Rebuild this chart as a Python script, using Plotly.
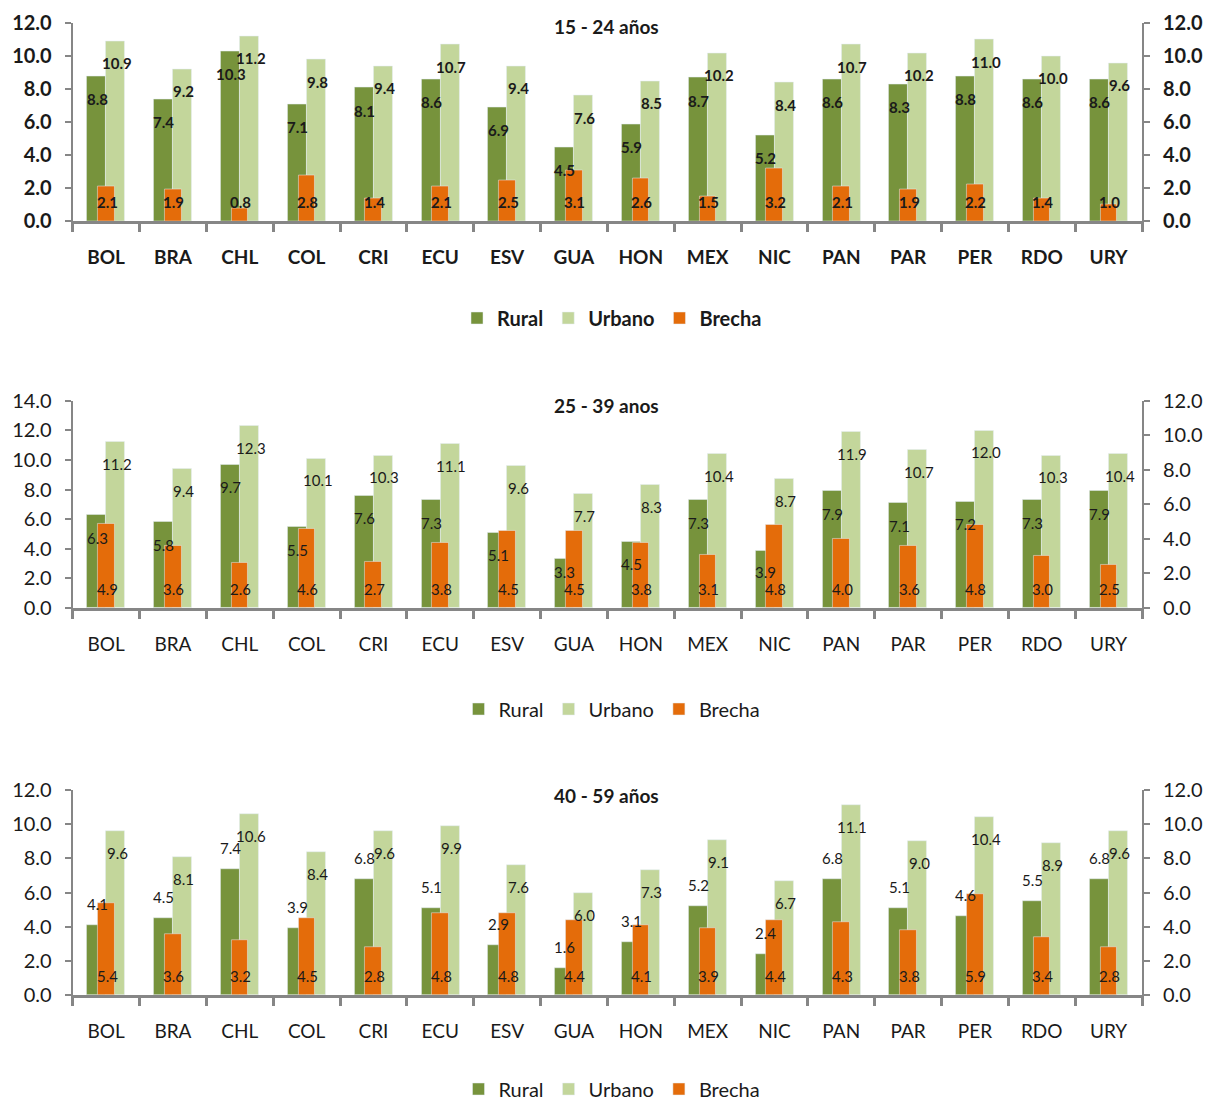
import plotly.graph_objects as go

# ---------------------------------------------------------------- data
countries = ["BOL", "BRA", "CHL", "COL", "CRI", "ECU", "ESV", "GUA",
             "HON", "MEX", "NIC", "PAN", "PAR", "PER", "RDO", "URY"]

series_names = ["Rural", "Urbano", "Brecha"]

rural_15_24 = [8.8, 7.4, 10.3, 7.1, 8.1, 8.6, 6.9, 4.5, 5.9, 8.7, 5.2, 8.6, 8.3, 8.8, 8.6, 8.6]
urbano_15_24 = [10.9, 9.2, 11.2, 9.8, 9.4, 10.7, 9.4, 7.6, 8.5, 10.2, 8.4, 10.7, 10.2, 11.0, 10.0, 9.6]
brecha_15_24 = [2.1, 1.9, 0.8, 2.8, 1.4, 2.1, 2.5, 3.1, 2.6, 1.5, 3.2, 2.1, 1.9, 2.2, 1.4, 1.0]

rural_25_39 = [6.3, 5.8, 9.7, 5.5, 7.6, 7.3, 5.1, 3.3, 4.5, 7.3, 3.9, 7.9, 7.1, 7.2, 7.3, 7.9]
urbano_25_39 = [11.2, 9.4, 12.3, 10.1, 10.3, 11.1, 9.6, 7.7, 8.3, 10.4, 8.7, 11.9, 10.7, 12.0, 10.3, 10.4]
brecha_25_39 = [4.9, 3.6, 2.6, 4.6, 2.7, 3.8, 4.5, 4.5, 3.8, 3.1, 4.8, 4.0, 3.6, 4.8, 3.0, 2.5]

rural_40_59 = [4.1, 4.5, 7.4, 3.9, 6.8, 5.1, 2.9, 1.6, 3.1, 5.2, 2.4, 6.8, 5.1, 4.6, 5.5, 6.8]
urbano_40_59 = [9.6, 8.1, 10.6, 8.4, 9.6, 9.9, 7.6, 6.0, 7.3, 9.1, 6.7, 11.1, 9.0, 10.4, 8.9, 9.6]
brecha_40_59 = [5.4, 3.6, 3.2, 4.5, 2.8, 4.8, 4.8, 4.4, 4.1, 3.9, 4.4, 4.3, 3.8, 5.9, 3.4, 2.8]

panel_titles = ["15 - 24 años", "25 - 39 anos", "40 - 59 años"]
left_axis_max = [12, 14, 12]
right_axis_max = [12, 12, 12]

# ---------------------------------------------------------------- styling
W, H = 1205, 1103
FONT = "Lato, 'Open Sans', sans-serif"
TXT = "#1a1a1a"
AXIS_GREY = "#868686"
C_RURAL = "#77933C"
C_URBANO = "#C3D69B"
C_BRECHA = "#E46C0A"

X_LEFT, X_RIGHT = 72.7, 1142.0
# per panel: plot top, plot bottom, title y, legend y (pixels from top)
geometry = [
    (23.3, 221.0, 27.0, 318.0),
    (400.7, 608.0, 405.0, 709.0),
    (790.0, 995.0, 795.0, 1089.0),
]
bold_panel = [True, False, False]
rural_label_above = [False, False, True]

LABEL_BELOW_TOP = 23      # px from bar top down to label centre
BRECHA_LABEL_UP = 19      # px from baseline up to the Brecha label centre
LABEL_CLEARANCE = 17      # min vertical gap between stacked labels


def py(pix):
    """pixel row (from top) -> paper fraction"""
    return 1 - pix / H


data_sets = [
    (rural_15_24, urbano_15_24, brecha_15_24),
    (rural_25_39, urbano_25_39, brecha_25_39),
    (rural_40_59, urbano_40_59, brecha_40_59),
]

fig = go.Figure()
annotations = []
layout_axes = {}

for i, (rural, urbano, brecha) in enumerate(data_sets):
    xa = "x" if i == 0 else f"x{i + 1}"
    yl = "y" if i == 0 else f"y{2 * i + 1}"
    yr = f"y{2 * i + 2}"
    leg = "legend" if i == 0 else f"legend{i + 1}"
    weight = "bold" if bold_panel[i] else "normal"
    top, bottom, title_y, legend_y = geometry[i]
    px_per_unit = (bottom - top) / left_axis_max[i]

    fig.add_trace(go.Bar(x=countries, y=rural, name=series_names[0], marker_color=C_RURAL,
                         offset=-0.285, width=0.285, xaxis=xa, yaxis=yl, legend=leg))
    fig.add_trace(go.Bar(x=countries, y=urbano, name=series_names[1], marker_color=C_URBANO,
                         offset=0.0, width=0.285, xaxis=xa, yaxis=yl, legend=leg))
    fig.add_trace(go.Bar(x=countries, y=brecha, name=series_names[2], marker_color=C_BRECHA,
                         offset=-0.125, width=0.25, xaxis=xa, yaxis=yr, legend=leg))

    # value labels
    lab_font = dict(family=FONT, size=15, color=TXT, weight=weight)
    for c, r, u, b in zip(countries, rural, urbano, brecha):
        if rural_label_above[i]:
            r_shift = 21
        else:
            r_shift = -LABEL_BELOW_TOP
            # keep short-bar labels clear of the Brecha label at the base
            lowest = BRECHA_LABEL_UP + LABEL_CLEARANCE
            if r * px_per_unit + r_shift < lowest:
                r_shift = lowest - r * px_per_unit
        annotations.append(dict(x=c, y=r, xref=xa, yref=yl, text=f"{r:.1f}", showarrow=False,
                                xshift=-9, yshift=r_shift, font=lab_font))
        annotations.append(dict(x=c, y=u, xref=xa, yref=yl, text=f"{u:.1f}", showarrow=False,
                                xshift=11, yshift=-22, font=lab_font))
        annotations.append(dict(x=c, y=0, xref=xa, yref=yr, text=f"{b:.1f}", showarrow=False,
                                xshift=1, yshift=BRECHA_LABEL_UP, font=lab_font))

    # panel title
    annotations.append(dict(x=606 / W, y=py(title_y), xref="paper", yref="paper",
                            text=panel_titles[i], showarrow=False, yanchor="middle",
                            font=dict(family=FONT, size=19, color=TXT, weight="bold")))

    dom_y = [py(bottom), py(top)]
    tick_font = dict(family=FONT, size=20, color=TXT, weight=weight)
    cat_font = dict(family=FONT, size=19, color=TXT, weight=weight)
    ykey_l = "yaxis" if i == 0 else f"yaxis{2 * i + 1}"
    ykey_r = f"yaxis{2 * i + 2}"
    xkey = "xaxis" if i == 0 else f"xaxis{i + 1}"

    layout_axes[xkey] = dict(
        domain=[X_LEFT / W, X_RIGHT / W], anchor=yl, type="category",
        range=[-0.5, len(countries) - 0.5], showline=True, linecolor=AXIS_GREY, linewidth=3,
        ticks="outside", tickson="boundaries", ticklen=8, tickwidth=3, tickcolor=AXIS_GREY,
        tickfont=cat_font, ticklabelstandoff=17, showgrid=False, zeroline=False,
        automargin=False)
    layout_axes[ykey_l] = dict(
        domain=dom_y, anchor=xa, range=[0, left_axis_max[i]], dtick=2, tickformat=".1f",
        showline=True, linecolor=AXIS_GREY, linewidth=2, ticks="outside", ticklen=6,
        tickwidth=2, tickcolor=AXIS_GREY, tickfont=tick_font, ticklabelstandoff=9,
        showgrid=False, zeroline=False, automargin=False)
    layout_axes[ykey_r] = dict(
        overlaying=yl, side="right", anchor=xa, range=[0, right_axis_max[i]], dtick=2,
        tickformat=".1f", showline=True, linecolor=AXIS_GREY, linewidth=2, ticks="outside",
        ticklen=6, tickwidth=2, tickcolor=AXIS_GREY, tickfont=tick_font,
        ticklabelstandoff=9, showgrid=False, zeroline=False, automargin=False)

    layout_axes[leg] = dict(
        orientation="h", x=612 / W, xanchor="center", y=py(legend_y), yanchor="middle",
        font=dict(family=FONT, size=20, color=TXT, weight=weight),
        bgcolor="rgba(0,0,0,0)", itemwidth=30, traceorder="normal")

fig.update_layout(
    width=W, height=H, margin=dict(l=0, r=0, t=0, b=0, autoexpand=False),
    paper_bgcolor="white", plot_bgcolor="white",
    barmode="overlay", showlegend=True, bargap=0,
    font=dict(family=FONT, color=TXT),
    annotations=annotations,
    **layout_axes,
)

fig.write_html("out.html")
